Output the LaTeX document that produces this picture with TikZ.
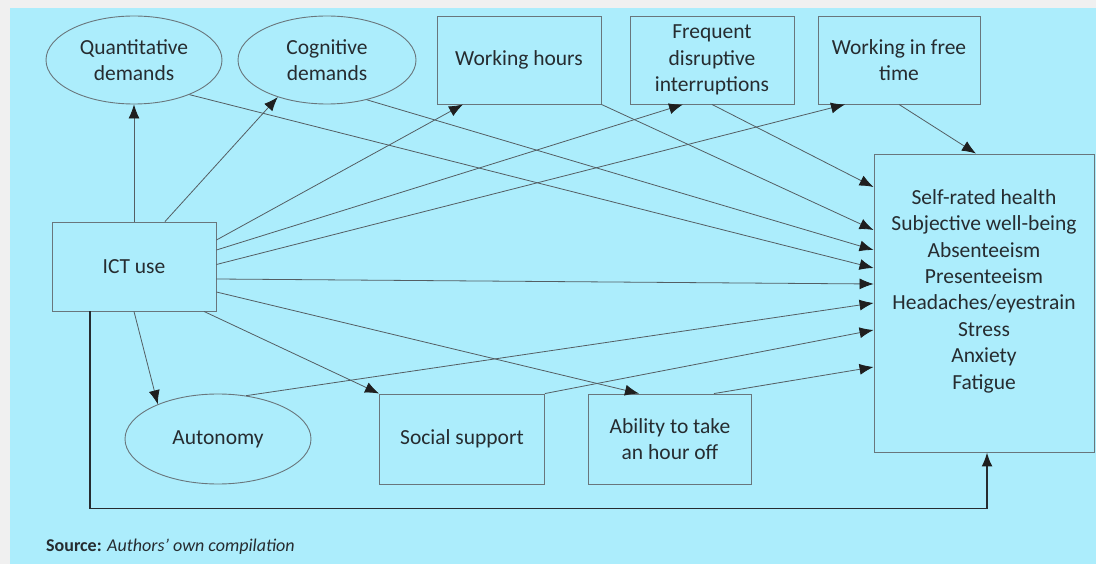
\documentclass[tikz,border=0pt]{standalone}
\usepackage{fontspec}
\setmainfont{Carlito}
\usetikzlibrary{shapes.geometric,arrows.meta}
\definecolor{panel}{RGB}{172,237,252}
\definecolor{outline}{RGB}{105,118,124}
\definecolor{ink}{RGB}{38,44,48}

\begin{document}
\begin{tikzpicture}[x=1pt, y=-1pt, >={Latex[length=14pt,width=11pt,color=black!88]},
  font=\fontsize{21.5}{26.4}\selectfont, text=ink,
  box/.style={draw=outline, line width=0.9pt, align=center, inner sep=0pt},
  oval/.style={ellipse, draw=outline, line width=0.9pt, align=center, inner sep=0pt},
  link/.style={->, draw=outline!80!black, line width=0.8pt}]
\fill[gray!12] (0,0) rectangle (1096,564);
\fill[panel] (10,8) rectangle (1096,564);
\useasboundingbox (0,0) rectangle (1096,564);

\node[oval, minimum width=176pt, minimum height=88pt] (quantitative) at (134,60) {Quantitative\\demands};
\node[oval, minimum width=178pt, minimum height=88pt] (cognitive) at (327,60) {Cognitive\\demands};
\node[box, minimum width=164pt, minimum height=88pt] (hours) at (519,60) {Working hours};
\node[box, minimum width=164pt, minimum height=88pt] (interruptions) at (712,60) {Frequent\\disruptive\\interruptions};
\node[box, minimum width=162pt, minimum height=88pt] (freetime) at (899,60) {Working in free\\time};

\node[box, minimum width=164pt, minimum height=89pt] (ict) at (134,266.5) {ICT use};

\node[box, minimum width=220pt, minimum height=298pt] (outcome box) at (984,303) {};
\node[align=center] (outcome label) at ([yshift=12pt] outcome box.center) {Self-rated health\\Subjective well-being\\Absenteeism\\Presenteeism\\Headaches/eyestrain\\Stress\\Anxiety\\Fatigue};

\node[oval, minimum width=186pt, minimum height=90pt] (autonomy) at (218,439) {Autonomy};
\node[box, minimum width=165pt, minimum height=90pt] (support) at (462,439) {Social support};
\node[box, minimum width=163pt, minimum height=90pt] (hour off) at (670,439) {Ability to take\\an hour off};

% ICT use to the mediators
\draw[link] (ict.north) -- (quantitative.south);
\draw[link] ([xshift=31pt] ict.north) -- (cognitive.217);
\draw[link] ([yshift=26.5pt] ict.east) -- ([xshift=-56pt] hours.south);
\draw[link] ([yshift=16.5pt] ict.east) -- ([xshift=-29pt] interruptions.south);
\draw[link] ([yshift=2pt] ict.east) -- ([xshift=-54pt] freetime.south);
\draw[link] ([yshift=-12.5pt] ict.east) -- ([yshift=19pt] outcome box.west);
\draw[link] ([yshift=-25.5pt] ict.east) -- ([xshift=-31pt] hour off.north);
\draw[link] ([xshift=70pt] ict.south) -- (support.north west);
\draw[link] (ict.south) -- (autonomy.150);

% mediators to the outcomes
\draw[link] (quantitative.328) -- ([yshift=35pt] outcome box.west);
\draw[link] (cognitive.315) -- ([yshift=53pt] outcome box.west);
\draw[link] (hours.south east) -- ([yshift=73pt] outcome box.west);
\draw[link] (interruptions.south) -- ([yshift=116pt] outcome box.west);
\draw[link] (freetime.south) -- ([xshift=-8pt] outcome box.north);
\draw[link] (autonomy.57) -- (outcome box.west);
\draw[link] (support.north east) -- ([yshift=-27pt] outcome box.west);
\draw[link] ([xshift=44pt] hour off.north) -- ([yshift=-64pt] outcome box.west);

% direct path
\draw[->, draw=ink, line width=1.8pt] ([xshift=-44pt] ict.south) -- ++(0,197) -| ([xshift=3pt] outcome box.south);

\node[anchor=west, inner sep=0pt, font=\fontsize{18}{20}\selectfont] (source) at (46,547) {\textbf{Source:} \textit{Authors’ own compilation}};
\end{tikzpicture}
\end{document}
